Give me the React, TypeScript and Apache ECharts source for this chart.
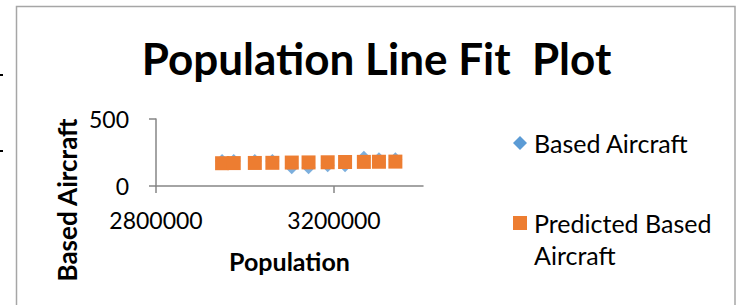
import React, { useEffect, useRef } from "react";
import * as echarts from "echarts";

const population = [2948500, 2974700, 3022100, 3061500, 3105100, 3142800, 3185800, 3224900, 3267100, 3301000, 3337900];
const basedAircraft = [186, 186, 186, 186, 139, 139, 154, 154, 211, 199, 199];
const predictedAircraft = [170, 171, 172, 173, 175, 176, 177, 179, 180, 181, 182];
const xTicks = { min: 2800000, max: 3400000, interval: 400000 };
const yTicks = { min: 0, max: 500, interval: 500 };

const FONT = "Lato";

export default function App() {
  const ref = useRef<HTMLDivElement>(null);
  useEffect(() => {
    document.body.style.margin = "0";
    const chart = echarts.init(ref.current!, null, { renderer: "svg" });
    const actualData = population.map((p, i) => [p, basedAircraft[i]]);
    const predData = population.map((p, i) => [p, predictedAircraft[i]]);
    chart.setOption({
      animation: false,
      backgroundColor: "#ffffff",
      title: {
        text: "Population Line Fit  Plot",
        left: "center",
        top: 31,
        textStyle: { fontFamily: FONT, fontWeight: "bold", fontSize: 44, color: "#000" },
      },
      grid: { left: 156, top: 119, width: 267, height: 67, containLabel: false },
      xAxis: {
        type: "value",
        min: xTicks.min,
        max: xTicks.max,
        interval: xTicks.interval,
        name: "Population",
        nameLocation: "middle",
        nameGap: 62,
        nameTextStyle: { fontFamily: FONT, fontWeight: "bold", fontSize: 25, color: "#000" },
        axisLine: { lineStyle: { color: "#868686", width: 1.5 } },
        axisTick: { show: true, length: 7, lineStyle: { color: "#868686", width: 1.5 } },
        axisLabel: {
          fontFamily: FONT,
          fontSize: 23,
          color: "#000",
          margin: 22,
          showMaxLabel: false,
          formatter: (v: number) => String(v),
        },
        splitLine: { show: false },
      },
      yAxis: {
        type: "value",
        min: yTicks.min,
        max: yTicks.max,
        interval: yTicks.interval,
        axisLine: { show: true, lineStyle: { color: "#868686", width: 1.5 } },
        axisTick: { show: true, length: 7, lineStyle: { color: "#868686", width: 1.5 } },
        axisLabel: { fontFamily: FONT, fontSize: 23, color: "#000", margin: 27, formatter: (v: number) => String(v) },
        splitLine: { show: false },
      },
      graphic: [
        {
          type: "rect",
          shape: { x: 16.5, y: 6.5, width: 718.5, height: 330 },
          style: { fill: "none", stroke: "#a6a6a6", lineWidth: 1.5 },
          silent: true,
        },
        { type: "rect", shape: { x: 0, y: 74, width: 3, height: 2 }, style: { fill: "#000" } },
        { type: "rect", shape: { x: 0, y: 150, width: 3, height: 2 }, style: { fill: "#000" } },
        {
          type: "text",
          x: 67,
          y: 200,
          rotation: Math.PI / 2,
          style: {
            text: "Based Aircraft",
            fontFamily: FONT,
            fontWeight: "bold",
            fontSize: 26,
            fill: "#000",
            align: "center",
            verticalAlign: "middle",
          },
        },
        {
          type: "polygon",
          shape: { points: [[520, 136], [527, 143], [520, 150], [513, 143]] },
          style: { fill: "#5b9bd5" },
        },
        {
          type: "text",
          x: 534,
          y: 143,
          style: { text: "Based Aircraft", fontFamily: FONT, fontSize: 25, fill: "#000", verticalAlign: "middle" },
        },
        {
          type: "rect",
          shape: { x: 513, y: 216, width: 14, height: 14 },
          style: { fill: "#ed7d31" },
        },
        {
          type: "text",
          x: 534,
          y: 223,
          style: { text: "Predicted Based", fontFamily: FONT, fontSize: 25, fill: "#000", verticalAlign: "middle" },
        },
        {
          type: "text",
          x: 534,
          y: 255,
          style: { text: "Aircraft", fontFamily: FONT, fontSize: 25, fill: "#000", verticalAlign: "middle" },
        },
      ],
      series: [
        {
          name: "Based Aircraft",
          type: "scatter",
          data: actualData,
          symbol: "diamond",
          symbolSize: 14,
          itemStyle: { color: "#5b9bd5" },
          z: 2,
        },
        {
          name: "Predicted Based Aircraft",
          type: "scatter",
          data: predData,
          symbol: "rect",
          symbolSize: 14,
          itemStyle: { color: "#ed7d31", opacity: 1 },
          z: 3,
        },
      ],
    });
    return () => chart.dispose();
  }, []);
  return <div ref={ref} style={{ position: "fixed", left: 0, top: 0, width: 753, height: 305 }} />;
}
